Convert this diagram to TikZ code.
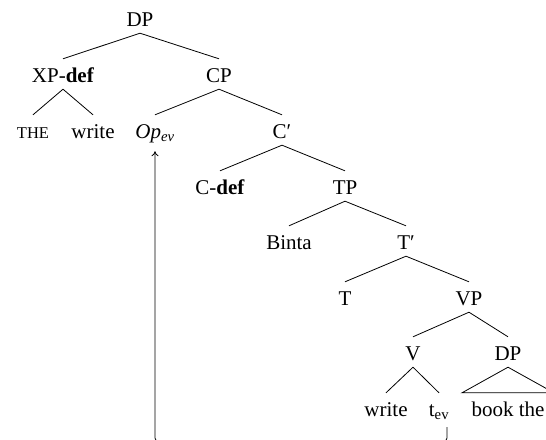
\documentclass[tikz,border=0pt]{standalone}
\usepackage{fontspec}
\setmainfont{Liberation Serif}[BoldFont={Liberation Serif Bold}, ItalicFont={Liberation Serif Italic}, BoldItalicFont={Liberation Serif Bold Italic}]
\usetikzlibrary{arrows.meta}
\begin{document}
\begin{tikzpicture}[x=1pt,y=-1pt,
  lab/.style={anchor=base, text height=18pt, text depth=2pt, inner xsep=0pt, inner ysep=5pt, font=\fontsize{21}{25}\selectfont},
  br/.style={line width=0.8pt},
  mv/.style={line width=0.8pt, rounded corners=3pt, -{To[length=5pt,width=7pt]}}]
\useasboundingbox (0,0) rectangle (546,439);
% level 0
\node[lab] (dp) at (140,26) {DP};
% level 1
\node[lab] (xp) at (63,82) {XP-\textbf{def}};
\node[lab] (cp) at (219,82) {CP};
% level 2
\node[lab] (the) at (33,138) {{\fontsize{16.5}{18}\selectfont THE}};
\node[lab] (wa) at (93,138) {write};
\node[lab] (op) at (155,138) {\textit{Op}\textsubscript{\textit{ev}}};
\node[lab] (cbar) at (282,138) {C′};
% level 3
\node[lab] (cdef) at (220,194) {C-\textbf{def}};
\node[lab] (tp) at (345,194) {TP};
% level 4
\node[lab] (binta) at (289,249) {Binta};
\node[lab] (tbar) at (406,249) {T′};
% level 5
\node[lab] (t) at (345,305) {T};
\node[lab] (vp) at (469,305) {VP};
% level 6
\node[lab] (v) at (413,360) {V};
\node[lab] (dpb) at (508,360) {DP};
% level 7
\node[lab] (wb) at (386,416) {write};
\node[lab] (tev) at (439,416) {t\textsubscript{ev}};
\node[lab] (book) at (508,416) {book the};
% branches
\draw[br] (dp.south) -- (xp.north);
\draw[br] (dp.south) -- (cp.north);
\draw[br] (xp.south) -- (the.north);
\draw[br] (xp.south) -- (wa.north);
\draw[br] (cp.south) -- (op.north);
\draw[br] (cp.south) -- (cbar.north);
\draw[br] (cbar.south) -- (cdef.north);
\draw[br] (cbar.south) -- (tp.north);
\draw[br] (tp.south) -- (binta.north);
\draw[br] (tp.south) -- (tbar.north);
\draw[br] (tbar.south) -- (t.north);
\draw[br] (tbar.south) -- (vp.north);
\draw[br] (vp.south) -- (v.north);
\draw[br] (vp.south) -- (dpb.north);
\draw[br] (v.south) -- (wb.north);
\draw[br] (v.south) -- (tev.north);
\draw[br] (dpb.south) -- ([xshift=-46pt]book.north) -- ([xshift=46pt]book.north) -- cycle;
% movement arrow
\coordinate (ms) at ([xshift=8pt,yshift=-4pt]tev.south);
\coordinate (mt) at ([yshift=-6pt]op.south);
\draw[mv] (ms) -- (ms |- 0,441) -- (mt |- 0,441) -- (mt);
\end{tikzpicture}
\end{document}
